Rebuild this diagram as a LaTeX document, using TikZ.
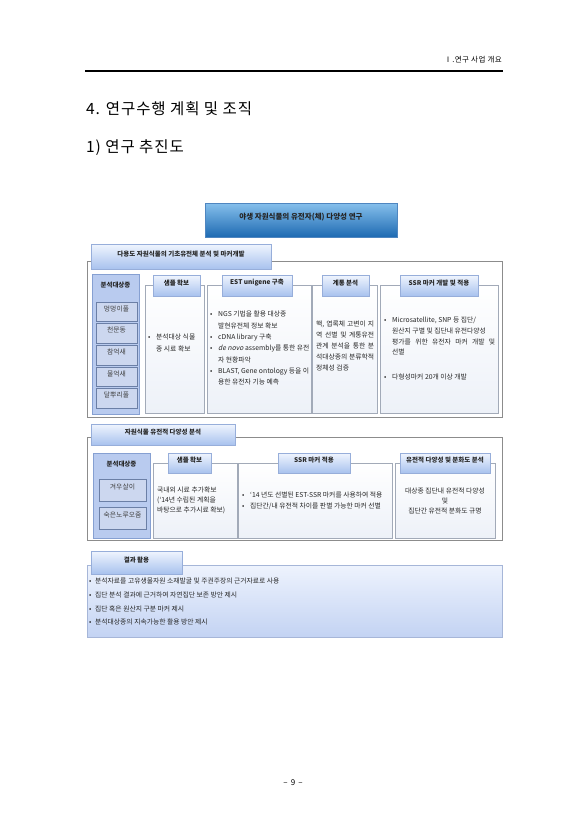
\documentclass[tikz,border=0pt]{standalone}
\usepackage{fontspec}
\setmainfont{Noto Sans CJK KR}[AutoFakeSlant=0.2]
\newfontfamily\spaced{Noto Sans CJK KR}[LetterSpace=6]
\usetikzlibrary{fit,shadows}
\definecolor{tbtop}{HTML}{86C0EC}
\definecolor{tbbot}{HTML}{1E6AB2}
\definecolor{tbline}{HTML}{4F86C0}
\definecolor{hdtop}{HTML}{F0F5FE}
\definecolor{hdbot}{HTML}{A8C2EE}
\definecolor{hdline}{HTML}{97AEDA}
\definecolor{cbfill}{HTML}{EDF1F8}
\definecolor{cbline}{HTML}{A2AAB8}
\definecolor{spcolc}{HTML}{B9CBEF}
\definecolor{spcolline}{HTML}{86A0D2}
\definecolor{spboxc}{HTML}{CCD7EF}
\definecolor{spline}{HTML}{6B7FA6}
\definecolor{frameline}{HTML}{8C8C8C}
\definecolor{restop}{HTML}{EEF3FD}
\definecolor{resbot}{HTML}{C3D3F3}
\definecolor{resline}{HTML}{A6B6D8}
\newcommand\bul{\makebox[8pt][l]{•}}
\newcommand\ind{\hspace*{8pt}}
\newcommand\sbul{\makebox[6pt][l]{•}}
\tikzset{
 bx/.style={inner sep=0pt, outer sep=0pt},
 titlebox/.style={bx, draw=tbline, top color=tbtop, bottom color=tbbot, font=\fontsize{7.5}{9}\selectfont\bfseries, text=black!85},
 frame/.style={bx, draw=frameline, line width=0.6pt, fill=white},
 tab/.style={bx, draw=hdline, top color=hdtop, bottom color=hdbot, font=\fontsize{6.5}{8}\selectfont\bfseries, text=black!85, drop shadow={shadow xshift=1pt, shadow yshift=-1pt, opacity=0.25}},
 cbox/.style={bx, draw=cbline, line width=0.6pt, top color=white, bottom color=cbfill},
 spcol/.style={bx, draw=spcolline, fill=spcolc},
 spbox/.style={bx, draw=spline, line width=0.8pt, fill=spboxc, font=\fontsize{6.8}{8}\selectfont, text=black!75},
 restbox/.style={bx, draw=resline, line width=0.6pt, top color=restop, bottom color=resbot},
 txt/.style={inner sep=0pt, align=left, font=\fontsize{6.8}{11.3}\selectfont, text=black!85},
}
\begin{document}
\begin{tikzpicture}[x=1pt,y=-1pt]
\useasboundingbox (0,0) rectangle (587,830);
\fill[white] (0,0) rectangle (587,830);
% running head
\node[anchor=base east, inner sep=0pt, font=\spaced\fontsize{7.5}{9}\selectfont] (runhead) at (502,62) {Ⅰ.연구 사업 개요};
\coordinate (hl) at (85,71);
\coordinate (hr) at (503,71);
\draw[line width=2.8pt] (hl) -- (hr);
\node[anchor=base west, inner sep=0pt, font=\spaced\fontsize{15.5}{18}\selectfont] (h4) at (86,114) {4. 연구수행 계획 및 조직};
\node[anchor=base west, inner sep=0pt, font=\spaced\fontsize{15.5}{18}\selectfont] (h1) at (86,152) {1) 연구 추진도};
% title
\node[titlebox, fit={(205,203) (397,237)}] (title) {야생 자원식물의 유전자(체) 다양성 연구};
% ---------- section 1
\node[frame, fit={(87,261) (502,417)}] (f1) {};
\node[tab, fit={(91,244) (271,269)}] (tab1) {다용도 자원식물의 기초유전체 분석 및 마커개발};
\node[spcol, fit={(92,274) (139,414)}] (sp1) {};
\node[inner sep=0pt, font=\fontsize{6.5}{8}\selectfont\bfseries, text=black!85] (sp1h) at (115.5,285) {분석대상종};
\node[spbox, fit={(96,302) (137,321)}] (s11) {멍멍이풀};
\node[spbox, fit={(96,323) (137,343)}] (s12) {천문동};
\node[spbox, fit={(96,345) (137,365)}] (s13) {참억새};
\node[spbox, fit={(96,367) (137,386)}] (s14) {물억새};
\node[spbox, fit={(96,388) (137,408)}] (s15) {달뿌리풀};
\node[cbox, fit={(145,285) (204,413)}] (c11) {};
\node[cbox, fit={(207,285) (311,413)}] (c12) {};
\node[cbox, fit={(312,285) (377,413)}] (c13) {};
\node[cbox, fit={(380,285) (498,413)}] (c14) {};
\node[tab, fit={(153,275) (200,296)}] (h11) {샘플 확보};
\node[tab, fit={(222,275) (292,296)}] (h12) {EST unigene 구축};
\node[tab, fit={(322,275) (369,296)}] (h13) {계통 분석};
\node[tab, fit={(400,275) (478,296)}] (h14) {SSR 마커 개발 및 적용};
\node[txt, anchor=north west] (t11) at (148,334) {\bul 분석대상 식물\\\ind 종 시료 확보};
\node[txt, anchor=north west] (t12) at (210,311) {\bul NGS 기법을 활용 대상종\\
\ind 발현유전체 정보 확보\\
\bul cDNA library 구축\\
\bul \textit{de novo} assembly를 통한 유전\\
\ind 자 현황파악\\
\bul BLAST, Gene ontology 등을 이\\
\ind 용한 유전자 기능 예측};
\node[txt, anchor=north west, font=\fontsize{6.8}{11}\selectfont] (t13) at (316,321) {\makebox[58pt][s]{핵, 엽록체 고변이 지}\\
\makebox[58pt][s]{역 선별 및 계통유전}\\
\makebox[58pt][s]{관계 분석을 통한 분}\\
\makebox[58pt][s]{석대상종의 분류학적}\\
정체성 검증};
\node[txt, anchor=north west, font=\fontsize{6.8}{10.7}\selectfont] (t14) at (384,317) {\bul Microsatellite, SNP 등 집단/\\
\ind 원산지 구별 및 집단내 유전다양성\\
\ind \makebox[103pt][s]{평가를 위한 유전자 마커 개발 및}\\
\ind 선별};
\node[txt, anchor=north west] (t15) at (384,374) {\bul 다형성마커 20개 이상 개발};
% ---------- section 2
\node[frame, fit={(87,437) (502,540)}] (f2) {};
\node[tab, fit={(91,424) (235,445)}] (tab2) {자원식물 유전적 다양성 분석};
\node[spcol, fit={(93,453) (150,538)}] (sp2) {};
\node[inner sep=0pt, font=\fontsize{6.5}{8}\selectfont\bfseries, text=black!85] (sp2h) at (121.5,464) {분석대상종};
\node[spbox, fit={(99,479) (146,501)}] (s21) {겨우살이};
\node[spbox, fit={(99,507) (146,529)}] (s22) {숙은노루오줌};
\node[cbox, fit={(153,463) (237,538)}] (c21) {};
\node[cbox, fit={(238,463) (392,538)}] (c22) {};
\node[cbox, fit={(395,463) (495,538)}] (c23) {};
\node[tab, fit={(168,453) (211,473)}] (h21) {샘플 확보};
\node[tab, fit={(278,453) (350,473)}] (h22) {SSR 마커 적용};
\node[tab, fit={(400,453) (490,473)}] (h23) {유전적 다양성 및 분화도 분석};
\node[txt, anchor=north west, font=\fontsize{6.8}{9.8}\selectfont] (t21) at (157,487) {국내외 시료 추가확보\\(‘14년 수립된 계획을\\바탕으로 추가시료 확보)};
\node[txt, anchor=north west, font=\fontsize{6.8}{11}\selectfont] (t22) at (242,492) {\bul ‘14 년도 선별된 EST-SSR 마커를 사용하여 적용\\\bul 집단간/내 유전적 차이를 판별 가능한 마커 선별};
\node[txt, align=center, font=\fontsize{6.8}{10}\selectfont] (t23) at (445,501) {대상종 집단내 유전적 다양성\\및\\집단간 유전적 분화도 규명};
% ---------- section 3
\node[restbox, fit={(87,565) (502,637)}] (f3) {};
\node[tab, fit={(91,551) (182,574)}] (tab3) {결과 활용};
\node[txt, anchor=north west, font=\fontsize{6.8}{13.7}\selectfont] (t31) at (89,578) {\sbul 분석자료를 고유생물자원 소재발굴 및 주권주장의 근거자료로 사용\\
\sbul 집단 분석 결과에 근거하여 자연집단 보존 방안 제시\\
\sbul 집단 혹은 원산지 구분 마커 제시\\
\sbul 분석대상종의 지속가능한 활용 방안 제시};
% page number
\node[inner sep=0pt, font=\fontsize{8}{9}\selectfont] (pg) at (293,783) {–\, 9 \,–};
\end{tikzpicture}
\end{document}
